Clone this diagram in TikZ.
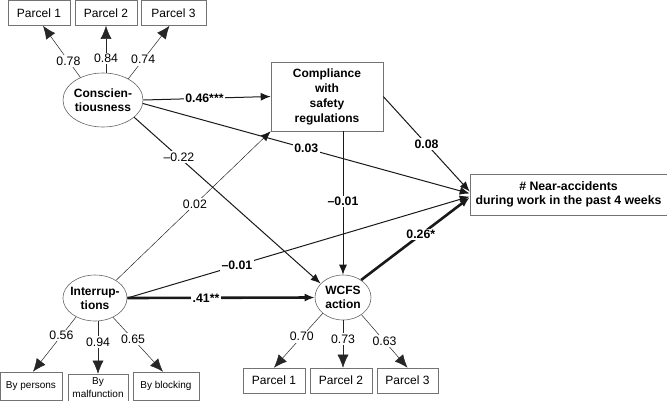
\documentclass[tikz,border=0pt]{standalone}
\usepackage{fontspec}
\setmainfont{Liberation Sans}
\usetikzlibrary{shapes.geometric,arrows.meta}
\begin{document}
\begin{tikzpicture}[x=1pt,y=-1pt,
 box/.style={draw=black!55, line width=0.6pt, rectangle, inner sep=1pt, align=center, font=\fontsize{12}{14}\selectfont},
 smallbox/.style={box, font=\fontsize{10}{12}\selectfont},
 lat/.style={draw=black!60, line width=0.6pt, ellipse, inner sep=-2pt, align=center, font=\bfseries\fontsize{12}{14}\selectfont},
 meas/.style={-{Latex[length=13pt,width=11pt]}, line width=0.5pt, draw=black!85},
 pth/.style={-{Latex[length=10pt,width=8pt]}, line width=1pt, draw=black!90},
 thinpth/.style={pth, line width=0.45pt},
 thickpth/.style={-{Latex[length=10pt,width=8pt]}, line width=2.6pt, draw=black!90},
 lbl/.style={fill=white, inner sep=1.5pt, font=\fontsize{12.3}{14}\selectfont},
 blbl/.style={lbl, font=\bfseries\fontsize{12.3}{14}\selectfont},
]
\useasboundingbox (0,0) rectangle (667,400);

% nodes
\node[box, minimum width=62pt, minimum height=25pt] (cp1) at (39,13) {Parcel 1};
\node[box, minimum width=62pt, minimum height=25pt] (cp2) at (106,13) {Parcel 2};
\node[box, minimum width=65pt, minimum height=25pt] (cp3) at (173.5,13) {Parcel 3};
\node[lat, minimum width=80pt, minimum height=54pt] (cons) at (103,100) {Conscien-\\tiousness};
\node[box, font=\bfseries\fontsize{12}{15}\selectfont, minimum width=112pt, minimum height=69pt] (comp) at (327,96.5) {Compliance\\with\\safety\\regulations};
\node[box, font=\bfseries\fontsize{12.3}{13.5}\selectfont, minimum width=197pt, minimum height=41pt] (near) at (568.5,194.5) {\# Near-accidents\\during work in the past 4 weeks};
\node[lat, minimum width=56pt, minimum height=45pt] (wcfs) at (343,297.5) {WCFS\\action};
\node[lat, minimum width=64pt, minimum height=46pt] (intr) at (95,298) {Interrup-\\tions};
\node[smallbox, minimum width=62pt, minimum height=28pt] (ip1) at (31,386) {By persons};
\node[smallbox, minimum width=60pt, minimum height=28pt, font=\fontsize{10}{13}\selectfont] (ip2) at (98,388) {By\\malfunction};
\node[smallbox, minimum width=66pt, minimum height=28pt] (ip3) at (166,386) {By blocking};
\node[box, minimum width=62pt, minimum height=25pt] (wp1) at (274,380.5) {Parcel 1};
\node[box, minimum width=62pt, minimum height=25pt] (wp2) at (341,380.5) {Parcel 2};
\node[box, minimum width=61pt, minimum height=25pt] (wp3) at (407.5,380.5) {Parcel 3};

% measurement arrows
\draw[meas] (cons.135) -- ([xshift=4pt]cp1.south) node[lbl, pos=0.32] (l1) {0.78};
\draw[meas] (cp2.south |- cons.north) -- (cp2.south) node[lbl, pos=0.3] (l2) {0.84};
\draw[meas] (cons.40) -- ([xshift=-4pt]cp3.south) node[lbl, pos=0.36] (l3) {0.74};

\draw[meas] (intr.225) -- ([xshift=2pt]ip1.north) node[lbl, pos=0.34] (l4) {0.56};
\draw[meas] (ip2.north |- intr.south) -- (ip2.north) node[lbl, pos=0.4] (l5) {0.94};
\draw[meas] (intr.313) -- ([xshift=-3pt]ip3.north) node[lbl, pos=0.4] (l6) {0.65};

\draw[meas] (wcfs.218) -- (wp1.north) node[lbl, pos=0.43] (l7) {0.70};
\draw[meas] (wcfs.south) -- (wcfs.south |- wp2.north) node[lbl, pos=0.4] (l8) {0.73};
\draw[meas] (wcfs.317) -- (wp3.north) node[lbl, pos=0.5] (l9) {0.63};

% structural paths
\draw[pth] (cons.east) -- (comp.west) node[blbl, pos=0.48] (l10) {0.46***};
\draw[pth] (cons.-5) -- ([yshift=1pt]near.west) node[blbl, pos=0.5] (l11) {0.03};
\draw[pth] (cons.-29) -- (wcfs.148) node[lbl, pos=0.24] (l12) {--0.22};
\draw[pth] (comp.east) -- ([yshift=3pt]near.west) node[blbl, pos=0.5] (l13) {0.08};
\draw[pth] (wcfs.north |- comp.south) -- (wcfs.north) node[blbl, pos=0.49] (l14) {--0.01};
\draw[thinpth] (intr.40) -- (comp.south west) node[lbl, pos=0.51] (l15) {0.02};
\draw[pth] (intr.east) -- ([yshift=-2pt]near.west) node[blbl, pos=0.32] (l16) {--0.01};
\draw[thickpth] (intr.east) -- (wcfs.west) node[blbl, pos=0.42] (l17) {.41**};
\draw[thickpth] (wcfs.44) -- ([yshift=-3pt]near.west) node[blbl, pos=0.55] (l18) {0.26*};
\end{tikzpicture}
\end{document}
